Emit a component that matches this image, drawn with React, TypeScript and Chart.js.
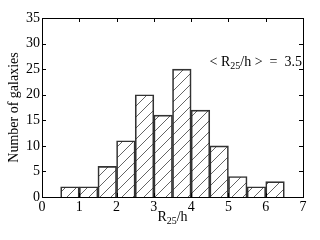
import React, { useEffect, useRef } from 'react';
import { Chart, registerables } from 'chart.js';
Chart.register(...registerables);

const binCenters = [0.75, 1.25, 1.75, 2.25, 2.75, 3.25, 3.75, 4.25, 4.75, 5.25, 5.75, 6.25];
const counts = [2, 2, 6, 11, 20, 16, 25, 17, 10, 4, 2, 3];
const xRange = [0, 7];
const yRange = [0, 35];
const xStep = 1;
const yStep = 5;
const yTitle = 'Number of galaxies';
const xTitleParts = ['R', '25', '/h'];
const annotParts = ['< R', '25', '/h >  =  3.5'];

const FONT = "'Liberation Serif', 'Times New Roman', serif";

function makeHatch(ctx: CanvasRenderingContext2D): CanvasPattern | string {
  const s = 11;
  const c = document.createElement('canvas');
  c.width = s;
  c.height = s;
  const g = c.getContext('2d');
  if (!g) return 'transparent';
  g.strokeStyle = '#222';
  g.lineWidth = 0.7;
  g.beginPath();
  g.moveTo(0, s);
  g.lineTo(s, 0);
  g.moveTo(-1, 1);
  g.lineTo(1, -1);
  g.moveTo(s - 1, s + 1);
  g.lineTo(s + 1, s - 1);
  g.stroke();
  return ctx.createPattern(c, 'repeat') || 'transparent';
}

function drawSubText(ctx: CanvasRenderingContext2D, parts: string[], x: number, y: number, align: 'center' | 'right') {
  const big = `14px ${FONT}`;
  const small = `10px ${FONT}`;
  ctx.font = big;
  const w0 = ctx.measureText(parts[0]).width;
  const w2 = ctx.measureText(parts[2]).width;
  ctx.font = small;
  const w1 = ctx.measureText(parts[1]).width;
  const total = w0 + w1 + w2;
  let sx = align === 'center' ? x - total / 2 : x - total;
  ctx.textAlign = 'left';
  ctx.textBaseline = 'alphabetic';
  ctx.fillStyle = '#000';
  ctx.font = big;
  ctx.fillText(parts[0], sx, y);
  sx += w0;
  ctx.font = small;
  ctx.fillText(parts[1], sx, y + 3);
  sx += w1;
  ctx.font = big;
  ctx.fillText(parts[2], sx, y);
}

const framePlugin = {
  id: 'frame',
  afterDraw(chart: any) {
    const { ctx, chartArea, scales } = chart;
    const { left, right, top, bottom } = chartArea;
    ctx.save();
    ctx.strokeStyle = '#000';
    ctx.lineWidth = 1;
    ctx.strokeRect(Math.round(left) + 0.5, Math.round(top) + 0.5, Math.round(right - left), Math.round(bottom - top));
    const tl = 4;
    ctx.beginPath();
    for (let v = xRange[0]; v <= xRange[1]; v += xStep) {
      const px = Math.round(scales.x.getPixelForValue(v)) + 0.5;
      ctx.moveTo(px, bottom);
      ctx.lineTo(px, bottom - tl);
      ctx.moveTo(px, top);
      ctx.lineTo(px, top + tl);
    }
    for (let v = yRange[0]; v <= yRange[1]; v += yStep) {
      const py = Math.round(scales.y.getPixelForValue(v)) + 0.5;
      ctx.moveTo(left, py);
      ctx.lineTo(left + tl, py);
      ctx.moveTo(right, py);
      ctx.lineTo(right - tl, py);
    }
    ctx.stroke();
    drawSubText(ctx, xTitleParts, (left + right) / 2, 221, 'center');
    drawSubText(ctx, annotParts, right - 1, 66, 'right');
    ctx.restore();
  },
};

export default function App() {
  const ref = useRef<HTMLCanvasElement>(null);
  useEffect(() => {
    const canvas = ref.current;
    if (!canvas) return;
    const ctx = canvas.getContext('2d');
    if (!ctx) return;
    const hatch = makeHatch(ctx);
    const chart = new Chart(ctx, {
      type: 'bar',
      data: {
        datasets: [
          {
            data: binCenters.map((x, i) => ({ x, y: counts[i] })),
            backgroundColor: hatch as any,
            borderColor: '#333',
            borderWidth: 1,
            borderSkipped: 'bottom',
            barPercentage: 1,
            categoryPercentage: 1,
          },
        ],
      },
      options: {
        responsive: false,
        animation: false,
        events: [],
        layout: { padding: { left: 0, top: 18, right: 17, bottom: 0 } },
        plugins: { legend: { display: false }, tooltip: { enabled: false } },
        scales: {
          x: {
            type: 'linear',
            min: xRange[0],
            max: xRange[1],
            offset: false,
            grid: { display: false, drawTicks: false },
            border: { display: false },
            ticks: { stepSize: xStep, padding: 2, color: '#000', font: { family: FONT, size: 14 }, maxRotation: 0 },
            afterFit: (axis: any) => {
              axis.height = 43;
            },
          },
          y: {
            min: yRange[0],
            max: yRange[1],
            grid: { display: false, drawTicks: false },
            border: { display: false },
            ticks: { stepSize: yStep, padding: 2, color: '#000', font: { family: FONT, size: 14 } },
            title: {
              display: true,
              text: yTitle,
              color: '#000',
              font: { family: FONT, size: 14 },
              padding: { top: 6, bottom: 0 },
            },
            afterFit: (axis: any) => {
              axis.width = 42;
            },
          },
        },
      },
      plugins: [framePlugin],
    });
    return () => chart.destroy();
  }, []);
  return (
    <div style={{ position: 'fixed', left: 0, top: 0, width: 320, height: 240, background: '#fff' }}>
      <canvas ref={ref} width={320} height={240} style={{ display: 'block' }} />
    </div>
  );
}
